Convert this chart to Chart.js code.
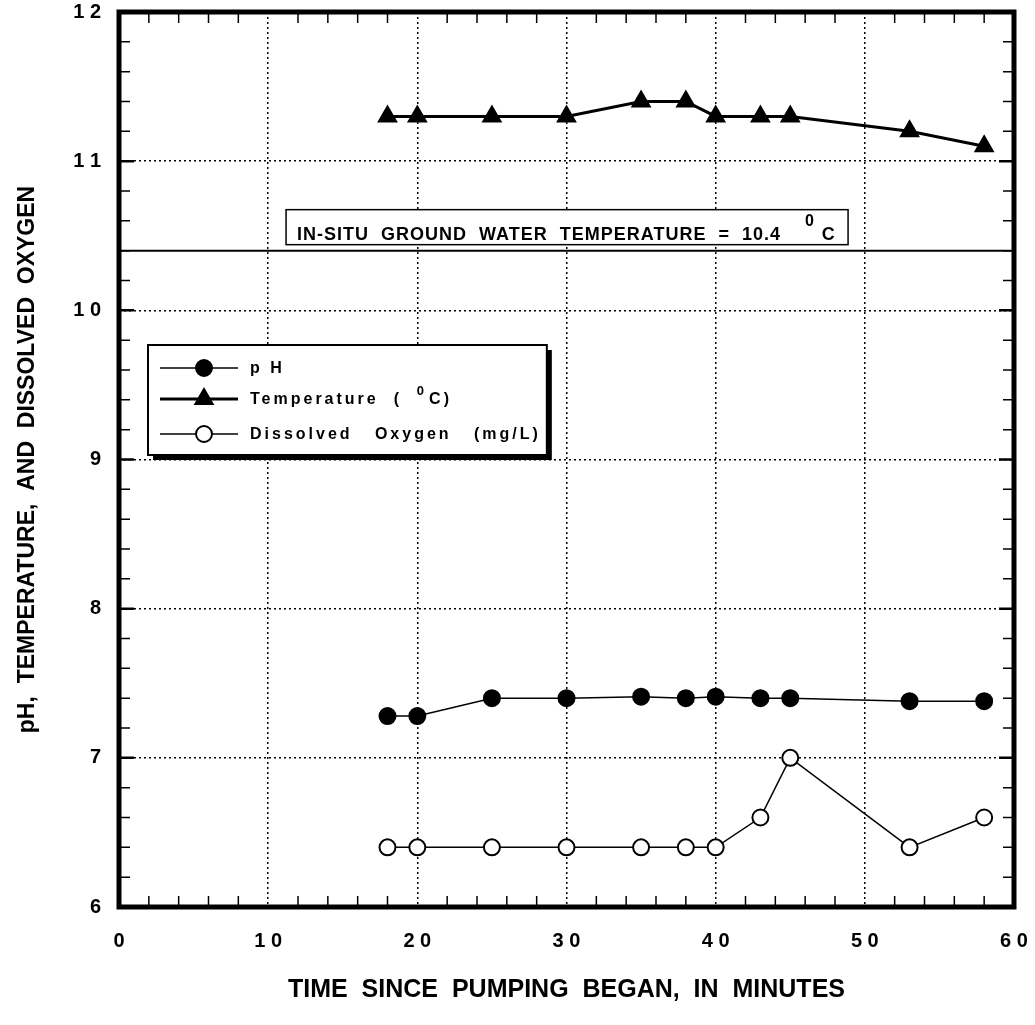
<!DOCTYPE html>
<html>
<head>
<meta charset="utf-8">
<script src="https://cdn.jsdelivr.net/npm/chart.js@4"></script>
<style>
  html, body { margin: 0; padding: 0; background: #fff; }
</style>
</head>
<body>
<canvas id="pumpChart" width="1035" height="1025"></canvas>
<script>
// field readings taken while the well was pumped
var minutes = [18, 20, 25, 30, 35, 38, 40, 43, 45, 53, 58];
var phValues = [7.28, 7.28, 7.40, 7.40, 7.41, 7.40, 7.41, 7.40, 7.40, 7.38, 7.38];
var tempValues = [11.3, 11.3, 11.3, 11.3, 11.4, 11.4, 11.3, 11.3, 11.3, 11.2, 11.1];
var oxygenValues = [6.4, 6.4, 6.4, 6.4, 6.4, 6.4, 6.4, 6.6, 7.0, 6.4, 6.6];
var inSituTemp = 10.4;
var xTicks = [0, 10, 20, 30, 40, 50, 60];
var yTicks = [6, 7, 8, 9, 10, 11, 12];

var FONT = '"Liberation Sans", Arial, sans-serif';

function pts(ys) {
    return minutes.map(function(m, i) { return { x: m, y: ys[i] }; });
}

// spaced-out digits, like the old plotter output
function spaced(v) {
    return String(v).split('').join(' ');
}

var series = [
    { label: 'p H', sup: '', tail: '', data: pts(phValues), pointStyle: 'circle', bg: '#000', width: 1.5, radius: 8 },
    { label: 'Temperature  (  ', sup: '0', tail: 'C)', data: pts(tempValues), pointStyle: 'triangle', bg: '#000', width: 3, radius: 10 },
    { label: 'Dissolved   Oxygen   (mg/L)', sup: '', tail: '', data: pts(oxygenValues), pointStyle: 'circle', bg: '#fff', width: 1.5, radius: 8 }
];

var datasets = series.map(function(s) {
    return {
        data: s.data,
        showLine: true,
        borderColor: '#000',
        borderWidth: s.width,
        backgroundColor: s.bg,
        pointStyle: s.pointStyle,
        pointRadius: s.radius,
        pointBorderWidth: 2,
        pointBorderColor: '#000',
        pointBackgroundColor: s.bg,
        tension: 0
    };
});

datasets.push({
    data: [{ x: 0, y: inSituTemp }, { x: 60, y: inSituTemp }],
    showLine: true,
    borderColor: '#000',
    borderWidth: 2,
    pointRadius: 0
});

// draws main text, a raised small "0" and the tail; returns end x
function textWithSup(ctx, x, y, main, sup, tail, supSize, supRise, supGap) {
    ctx.fillText(main, x, y);
    x += ctx.measureText(main).width;
    if (sup) {
        var f = ctx.font;
        ctx.font = 'bold ' + supSize + 'px ' + FONT;
        ctx.fillText(sup, x, y - supRise);
        x += ctx.measureText(sup).width + supGap;
        ctx.font = f;
    }
    if (tail) {
        ctx.fillText(tail, x, y);
        x += ctx.measureText(tail).width;
    }
    return x;
}

var framePlugin = {
    id: 'framePlugin',
    beforeDatasetsDraw: function(chart) {
        var ctx = chart.ctx, a = chart.chartArea;
        var xs = chart.scales.x, ys = chart.scales.y;
        ctx.save();
        ctx.strokeStyle = '#000';
        ctx.lineWidth = 1.5;
        ctx.beginPath();
        // inward ticks along the four sides
        for (var m = 2; m < 60; m += 2) {
            if (m % 10 === 0) continue;
            var px = xs.getPixelForValue(m);
            ctx.moveTo(px, a.bottom); ctx.lineTo(px, a.bottom - 11);
            ctx.moveTo(px, a.top); ctx.lineTo(px, a.top + 11);
        }
        for (var k = 31; k < 60; k++) {
            if (k % 5 === 0) continue;
            var py = ys.getPixelForValue(k / 5);
            ctx.moveTo(a.left, py); ctx.lineTo(a.left + 11, py);
            ctx.moveTo(a.right, py); ctx.lineTo(a.right - 11, py);
        }
        ctx.stroke();
        ctx.lineWidth = 2.5;
        ctx.beginPath();
        for (var j = 7; j < 12; j++) {
            var yy = ys.getPixelForValue(j);
            ctx.moveTo(a.left, yy); ctx.lineTo(a.left + 15, yy);
            ctx.moveTo(a.right, yy); ctx.lineTo(a.right - 15, yy);
        }
        ctx.stroke();

        // label box above the in-situ line
        var refY = ys.getPixelForValue(inSituTemp);
        var bx = xs.getPixelForValue(11.2), bw = 562, bh = 35, by = refY - 41;
        ctx.fillStyle = '#fff';
        ctx.fillRect(bx, by, bw, bh);
        ctx.lineWidth = 1.5;
        ctx.strokeRect(bx, by, bw, bh);
        ctx.fillStyle = '#000';
        ctx.font = 'bold 18px ' + FONT;
        ctx.letterSpacing = '1px';
        ctx.textBaseline = 'alphabetic';
        textWithSup(ctx, bx + 11, by + 30, 'IN-SITU  GROUND  WATER  TEMPERATURE  =  10.4    ', '0', 'C', 16, 14, 7);
        ctx.restore();
    },
    afterDraw: function(chart) {
        var ctx = chart.ctx, a = chart.chartArea;
        ctx.save();
        ctx.strokeStyle = '#000';
        ctx.lineWidth = 5;
        ctx.strokeRect(a.left, a.top, a.right - a.left, a.bottom - a.top);

        // legend, sized to its widest row, with a drop shadow
        ctx.font = 'bold 16px ' + FONT;
        ctx.letterSpacing = '3px';
        var lx = 148, ly = 345, lh = 110, textX = 250;
        var widest = 0;
        series.forEach(function(s) {
            var w = ctx.measureText(s.label + s.tail).width + (s.sup ? 14 : 0);
            if (w > widest) widest = w;
        });
        var lw = textX - lx + widest + 6;
        ctx.fillStyle = '#000';
        ctx.fillRect(lx + 5, ly + 5, lw, lh);
        ctx.fillStyle = '#fff';
        ctx.fillRect(lx, ly, lw, lh);
        ctx.lineWidth = 2;
        ctx.strokeRect(lx, ly, lw, lh);

        ctx.textBaseline = 'middle';
        var rows = [368, 399, 434];
        series.forEach(function(s, i) {
            var yy = rows[i];
            ctx.strokeStyle = '#000';
            ctx.lineWidth = s.width;
            ctx.beginPath();
            ctx.moveTo(lx + 12, yy); ctx.lineTo(lx + 90, yy);
            ctx.stroke();
            ctx.lineWidth = 2;
            ctx.fillStyle = s.bg;
            Chart.helpers.drawPoint(ctx, { pointStyle: s.pointStyle, radius: s.radius, borderWidth: 2 }, lx + 56, yy);
            ctx.fillStyle = '#000';
            textWithSup(ctx, textX, yy + 1, s.label, s.sup, s.tail, 13, 9, 2);
        });
        ctx.restore();
    }
};

new Chart(document.getElementById('pumpChart').getContext('2d'), {
    type: 'scatter',
    data: { datasets: datasets },
    options: {
        responsive: false,
        animation: false,
        devicePixelRatio: 1,
        layout: { padding: { top: 12, right: 21, left: 0, bottom: 0 } },
        plugins: { legend: { display: false }, tooltip: { enabled: false } },
        scales: {
            x: {
                type: 'linear',
                min: 0,
                max: 60,
                afterBuildTicks: function(scale) {
                    scale.ticks = xTicks.map(function(v) { return { value: v }; });
                },
                afterFit: function(scale) {
                    scale.height = 118;
                    scale.paddingLeft = 0;
                    scale.paddingRight = 0;
                },
                grid: { color: '#000', lineWidth: 1.5, drawTicks: false },
                border: { display: false, dash: [2, 3] },
                ticks: {
                    color: '#000',
                    padding: 22,
                    maxRotation: 0,
                    font: { family: FONT, size: 20, weight: 'bold' },
                    callback: function(v) { return spaced(v); }
                },
                title: {
                    display: true,
                    text: 'TIME  SINCE  PUMPING  BEGAN,  IN  MINUTES',
                    color: '#000',
                    font: { family: FONT, size: 25, weight: 'bold' },
                    padding: { top: 0, bottom: 20 }
                }
            },
            y: {
                type: 'linear',
                min: 6,
                max: 12,
                afterBuildTicks: function(scale) {
                    scale.ticks = yTicks.map(function(v) { return { value: v }; });
                },
                afterFit: function(scale) {
                    scale.width = 119;
                    scale.paddingTop = 0;
                    scale.paddingBottom = 0;
                },
                grid: { color: '#000', lineWidth: 1.5, drawTicks: false },
                border: { display: false, dash: [2, 3] },
                ticks: {
                    color: '#000',
                    padding: 18,
                    font: { family: FONT, size: 20, weight: 'bold' },
                    callback: function(v) { return spaced(v); }
                },
                title: {
                    display: true,
                    text: 'pH,  TEMPERATURE,  AND  DISSOLVED  OXYGEN',
                    color: '#000',
                    font: { family: FONT, size: 23, weight: 'bold' },
                    padding: { top: 14, bottom: 0 }
                }
            }
        }
    },
    plugins: [framePlugin]
});
</script>
</body>
</html>
